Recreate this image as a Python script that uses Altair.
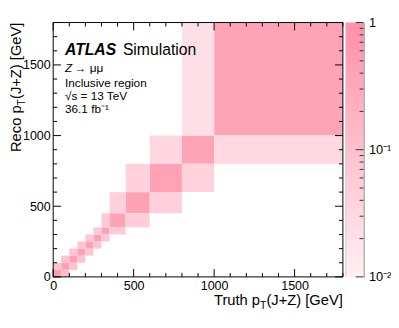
import altair as alt
import pandas as pd

# ---------------- data ----------------
edges = [0, 50, 100, 150, 200, 250, 300, 350, 450, 600, 800, 1000, 1800]
# diagonal (reco bin == truth bin)
diag_vals = [0.50, 0.48, 0.46, 0.46, 0.45, 0.45, 0.44, 0.42, 0.42, 0.42, 0.40, 0.40]
# reco bin = truth bin + 1 (above diagonal)
above_vals = [0.09, 0.085, 0.08, 0.075, 0.07, 0.065, 0.06, 0.045, 0.04, 0.035, 0.022]
# reco bin = truth bin - 1 (right of diagonal)
below_vals = [0.10, 0.09, 0.085, 0.08, 0.075, 0.07, 0.06, 0.05, 0.045, 0.04, 0.03]

axis_labels = [0, 500, 1000, 1500]
axis_ticks = [0, 100, 200, 300, 400, 500, 600, 700, 800, 900, 1000,
              1100, 1200, 1300, 1400, 1500, 1600, 1700, 1800]
cb_major = [0.01, 0.1, 1.0]
cb_minor = [0.02, 0.03, 0.04, 0.05, 0.06, 0.07, 0.08, 0.09,
            0.2, 0.3, 0.4, 0.5, 0.6, 0.7, 0.8, 0.9]

cmin, cmax = "#ffeff4", "#ff90a8"

rows = []
for j, v in enumerate(diag_vals):
    rows.append((j, j, v))
for j, v in enumerate(above_vals):
    rows.append((j, j + 1, v))
for k, v in enumerate(below_vals):
    rows.append((k + 1, k, v))
cells = pd.DataFrame(
    [{"x0": edges[j], "x1": edges[j + 1], "y0": edges[i], "y1": edges[i + 1], "v": v}
     for j, i, v in rows]
)

ticks_df = pd.DataFrame({"v": axis_ticks, "major": [t % 500 == 0 for t in axis_ticks]})
cb_ticks = pd.DataFrame({"v": cb_major + cb_minor,
                         "major": [True] * len(cb_major) + [False] * len(cb_minor)})

W, H = 295, 259
CW = 18
FONT = "Liberation Sans"
TF = 15            # title font size
SF = 10.5          # subscript font size
LF = 12.7          # tick label font size

xs = alt.Scale(domain=[0, 1800], nice=False, zero=False)
ys = alt.Scale(domain=[0, 1800], nice=False, zero=False)
cs = alt.Scale(type="log", domain=[0.01, 1], range=[cmin, cmax], interpolate="rgb")

common_axis = dict(values=axis_labels, ticks=False, domain=False, grid=False, format="d",
                   labelFontSize=LF, labelFont=FONT, labelColor="black",
                   title=None, labelFlush=False, labelOverlap=False)
xaxis = alt.Axis(labelPadding=3, **common_axis)
yaxis = alt.Axis(labelPadding=3, **common_axis)

heat = alt.Chart(cells).mark_rect(strokeWidth=0).encode(
    x=alt.X("x0:Q", scale=xs, axis=xaxis),
    x2="x1:Q",
    y=alt.Y("y0:Q", scale=ys, axis=yaxis),
    y2="y1:Q",
    color=alt.Color("v:Q", scale=cs, legend=None),
)

one = pd.DataFrame({"a": [0]})


def txt(text, x, y, size=12, **kw):
    return alt.Chart(one).mark_text(text=text, font=FONT, fontSize=size, color="black",
                                    align=kw.pop("align", "left"), baseline="alphabetic",
                                    **kw).encode(x=alt.value(x), y=alt.value(y))


def frame(x, x2, y, y2, color="black"):
    return alt.Chart(one).mark_rule(color=color, strokeWidth=1).encode(
        x=alt.value(x), x2=alt.value(x2), y=alt.value(y), y2=alt.value(y2))


layers = [heat]

# inward ticks on all four sides
for major, L in [(True, 8), (False, 4)]:
    sel = ticks_df[ticks_df["major"] == major]
    base = alt.Chart(sel).mark_rule(color="black", strokeWidth=1)
    layers.append(base.encode(x=alt.X("v:Q", scale=xs, axis=xaxis), y=alt.value(H), y2=alt.value(H - L)))
    layers.append(base.encode(x=alt.X("v:Q", scale=xs, axis=xaxis), y=alt.value(0), y2=alt.value(L)))
    layers.append(base.encode(y=alt.Y("v:Q", scale=ys, axis=yaxis), x=alt.value(0), x2=alt.value(L)))
    layers.append(base.encode(y=alt.Y("v:Q", scale=ys, axis=yaxis), x=alt.value(W), x2=alt.value(W - L)))

# plot frame
layers += [frame(0, W, 0, 0), frame(0, W, H, H), frame(0, 0, 0, H), frame(W, W, 0, H)]

# annotations
layers += [
    txt("ATLAS", 12, 33.5, 16, fontWeight="bold", fontStyle="italic"),
    txt("Simulation", 71, 33.5, 16),
    txt("Z", 12, 50.5, 12, fontStyle="italic"),
    txt("\u2192 \u03bc\u03bc", 22, 50.5, 12),
    txt("Inclusive region", 12, 65.5, 12),
    txt("\u221as = 13 TeV", 12, 79, 12),
    txt("36.1 fb\u207b\u00b9", 12, 92, 12),
]

# x title: Truth p_T(J+Z) [GeV], right aligned at plot end
w1 = 5.196 * TF
wT = 0.611 * SF
XB = H + 29
layers += [
    txt("(J+Z) [GeV]", W, XB, TF, align="right"),
    txt("T", W - w1, XB + 4, SF, align="right"),
    txt("Truth p", W - w1 - wT, XB, TF, align="right"),
]
# y title: Reco p_T(J+Z) [GeV], rotated, ending at plot top
YB = -33
layers += [
    txt("(J+Z) [GeV]", YB, 0, TF, align="right", angle=270),
    txt("T", YB + 4, w1, SF, align="right", angle=270),
    txt("Reco p", YB, w1 + wT, TF, align="right", angle=270),
]

main = alt.layer(*layers).properties(width=W, height=H)

# ---------------- colour bar ----------------
cbs = alt.Scale(type="log", domain=[0.01, 1], nice=False)
cbaxis = alt.Axis(orient="right", values=cb_major, ticks=False,
                  domain=True, domainColor="#666", grid=False,
                  labelFontSize=13, labelFont=FONT,
                  labelColor="black", labelPadding=5, title=None,
                  labelFlush=False, labelOverlap=False,
                  labelExpr="datum.value > 0.5 ? '1' : (datum.value > 0.05 ? '10\u207b\u00b9' : '10\u207b\u00b2')")
cb_rect = alt.Chart(pd.DataFrame({"lo": [0.01], "hi": [1.0]})).mark_rect(
    color=alt.Gradient(gradient="linear",
                       stops=[alt.GradientStop(color=cmin, offset=0),
                              alt.GradientStop(color=cmax, offset=1)],
                       x1=0, x2=0, y1=1, y2=0)
).encode(
    y=alt.Y("lo:Q", scale=cbs, axis=cbaxis),
    y2="hi:Q",
    x=alt.value(0),
    x2=alt.value(CW),
)
cb_layers = [cb_rect]
for major, L in [(True, 8), (False, 4)]:
    sel = cb_ticks[cb_ticks["major"] == major]
    cb_layers.append(alt.Chart(sel).mark_rule(color="#333", strokeWidth=1).encode(
        y=alt.Y("v:Q", scale=cbs, axis=cbaxis), x=alt.value(CW - L), x2=alt.value(CW)))
cb_layers.append(frame(0, 0, 0, H, color="#ccc"))

cbar = alt.layer(*cb_layers).properties(width=CW, height=H)

chart = alt.hconcat(main, cbar, spacing=1).properties(
    padding={"left": 0, "top": 6, "right": 0, "bottom": 0}
).configure(font=FONT, background="white").configure_view(stroke=None)

chart.save("out.html", embed_options={"renderer": "svg", "actions": False})
